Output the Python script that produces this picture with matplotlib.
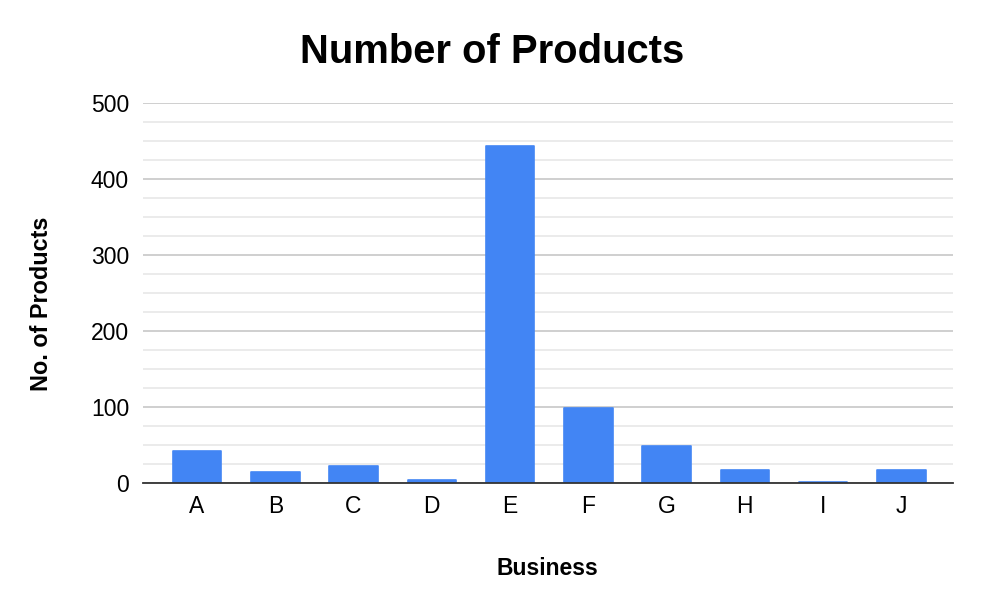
import matplotlib
matplotlib.use("Agg")
import matplotlib.pyplot as plt
import numpy as np

# data
businesses = ["A", "B", "C", "D", "E", "F", "G", "H", "I", "J"]
products = [42, 14, 22, 3, 443, 98, 48, 16, 1, 16]
y_ticks = [0, 100, 200, 300, 400, 500]
minor_ticks = [25, 50, 75, 125, 150, 175, 225, 250, 275,
               325, 350, 375, 425, 450, 475]

plt.rcParams['font.family'] = ['Liberation Sans', 'DejaVu Sans']

fig = plt.figure(figsize=(9.84, 6.10), dpi=100)
ax = fig.add_axes([143 / 984, 1 - 482.5 / 610, 810 / 984, 379.8 / 610])

x = np.arange(len(businesses))
ax.bar(x, products, width=0.62, color="#4285F4", edgecolor="#4285F4",
       linewidth=1.2, joinstyle="round", zorder=3)

ax.set_xlim(-0.69, len(businesses) - 1 + 0.66)
ax.set_ylim(0, 500)

# gridlines
ax.set_yticks(y_ticks)
ax.set_yticks(minor_ticks, minor=True)
ax.grid(axis="y", which="major", color="#cccccc", linewidth=1.3, zorder=0)
ax.grid(axis="y", which="minor", color="#e6e6e6", linewidth=1.1, zorder=0)
ax.grid(axis="x", visible=False)

for side in ["top", "right", "left"]:
    ax.spines[side].set_visible(False)
ax.spines["bottom"].set_color("#333333")
ax.spines["bottom"].set_linewidth(1.3)
ax.spines["bottom"].set_zorder(4)

ax.set_xticks(x)
ax.set_xticklabels(businesses)
ax.tick_params(axis="both", which="both", length=0, labelsize=16.5, colors="#000000")
ax.tick_params(axis="y", pad=10)
ax.tick_params(axis="x", pad=9)

fig.text(0.5, 1 - 63 / 610, "Number of Products", ha="center", va="baseline",
         fontsize=28.8, fontweight="bold")
fig.text(547.5 / 984, 1 - 575 / 610, "Business", ha="center", va="baseline",
         fontsize=16.5, fontweight="bold")
fig.text(41.5 / 984, 1 - 304 / 610, "No. of Products", ha="center", va="center",
         rotation=90, fontsize=16.8, fontweight="bold")

fig.savefig("out.png", dpi=100)
